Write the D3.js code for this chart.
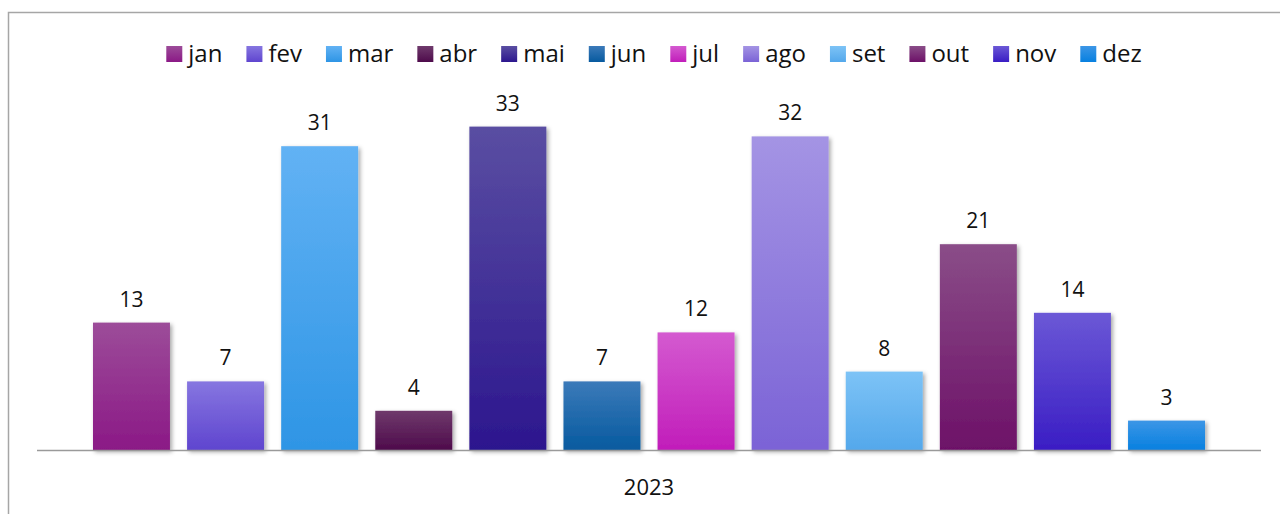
<!DOCTYPE html>
<html>
<head>
<meta charset="utf-8">
<script src="https://cdn.jsdelivr.net/npm/d3@7"></script>
<style>
  body { margin: 0; background: #fff; }
  svg { display: block; font-family: "Open Sans", sans-serif; }
</style>
</head>
<body>
<svg id="chart"></svg>
<script>
// data
const months = ['jan', 'fev', 'mar', 'abr', 'mai', 'jun', 'jul', 'ago', 'set', 'out', 'nov', 'dez'];
const counts = [13, 7, 31, 4, 33, 7, 12, 32, 8, 21, 14, 3];
const yearLabel = '2023';

// gradient colours per month (top -> bottom)
const topColors = ['#9c4c99', '#8676e0', '#62b2f4', '#6f3a6c', '#5a4ea2', '#3b7ab9', '#d45ad0', '#a494e4', '#7dc3f6', '#8a4d88', '#6b58d6', '#3c96e6'];
const bottomColors = ['#8b1986', '#5f45cf', '#2e95e5', '#4e0b4b', '#2c168e', '#075a9f', '#c11dba', '#7b63d6', '#54a8eb', '#6d1168', '#3a1dc4', '#0780e0'];

const width = 1280, height = 514;
const margin = {top: 107, left: 37, right: 19, bottom: 64};

const svg = d3.select('#chart')
    .attr('width', width)
    .attr('height', height);

const defs = svg.append('defs');

const shadow = defs.append('filter')
    .attr('id', 'shadow')
    .attr('x', '-20%').attr('y', '-20%')
    .attr('width', '150%').attr('height', '150%');
shadow.append('feDropShadow')
    .attr('dx', 2).attr('dy', 2)
    .attr('stdDeviation', 2.2)
    .attr('flood-color', '#000')
    .attr('flood-opacity', 0.35);

months.forEach((m, i) => {
  const g = defs.append('linearGradient')
      .attr('id', 'grad-' + m)
      .attr('x1', 0).attr('y1', 0).attr('x2', 0).attr('y2', 1);
  g.append('stop').attr('offset', '0%').attr('stop-color', topColors[i]);
  g.append('stop').attr('offset', '100%').attr('stop-color', bottomColors[i]);
});

// frame (only top and left visible)
svg.append('path')
    .attr('d', `M8.5,${height + 2} V12.5 H${width + 2}`)
    .attr('fill', 'none')
    .attr('stroke', '#a6a6a6')
    .attr('stroke-width', 1.5);

const xScale = d3.scaleBand()
    .domain(months)
    .range([margin.left, width - margin.right])
    .paddingInner(0.182)
    .paddingOuter(0.595);

const yScale = d3.scaleLinear()
    .domain([0, 35])
    .range([height - margin.bottom, margin.top]);

const chart = svg.append('g');

chart.selectAll('.bar')
    .data(months)
  .join('rect')
    .attr('class', 'bar')
    .attr('x', d => xScale(d))
    .attr('width', xScale.bandwidth())
    .attr('y', (d, i) => yScale(counts[i]))
    .attr('height', (d, i) => yScale(0) - yScale(counts[i]))
    .attr('fill', d => `url(#grad-${d})`)
    .attr('filter', 'url(#shadow)');

// baseline
svg.append('line')
    .attr('x1', margin.left).attr('x2', width - margin.right)
    .attr('y1', yScale(0) + 0.5).attr('y2', yScale(0) + 0.5)
    .attr('stroke', '#9a9a9a')
    .attr('stroke-width', 1.5);

// value labels
chart.selectAll('.label')
    .data(months)
  .join('text')
    .attr('class', 'label')
    .attr('x', d => xScale(d) + xScale.bandwidth() / 2)
    .attr('y', (d, i) => yScale(counts[i]) - 16)
    .attr('text-anchor', 'middle')
    .style('font-size', '21px')
    .style('fill', '#111')
    .text((d, i) => counts[i]);

// category label
svg.append('text')
    .attr('x', (margin.left + width - margin.right) / 2)
    .attr('y', 495)
    .attr('text-anchor', 'middle')
    .style('font-size', '22px')
    .style('fill', '#111')
    .text(yearLabel);

// legend
const legend = svg.append('g').attr('class', 'legend');
const items = legend.selectAll('.item')
    .data(months)
  .join('g')
    .attr('class', 'item');

items.append('rect')
    .attr('width', 16).attr('height', 16)
    .attr('y', 46)
    .attr('fill', d => `url(#grad-${d})`);

items.append('text')
    .attr('x', 22)
    .attr('y', 62)
    .style('font-size', '24px')
    .style('fill', '#111')
    .text(d => d);

let offset = 0;
const positions = [];
const gap = 24;
items.each(function() {
  positions.push(offset);
  const w = d3.select(this).select('text').node().getComputedTextLength();
  offset += 22 + w + gap;
});
const totalWidth = offset - gap;
const startX = 654 - totalWidth / 2;
items.attr('transform', (d, i) => `translate(${startX + positions[i]},0)`);
</script>
</body>
</html>
